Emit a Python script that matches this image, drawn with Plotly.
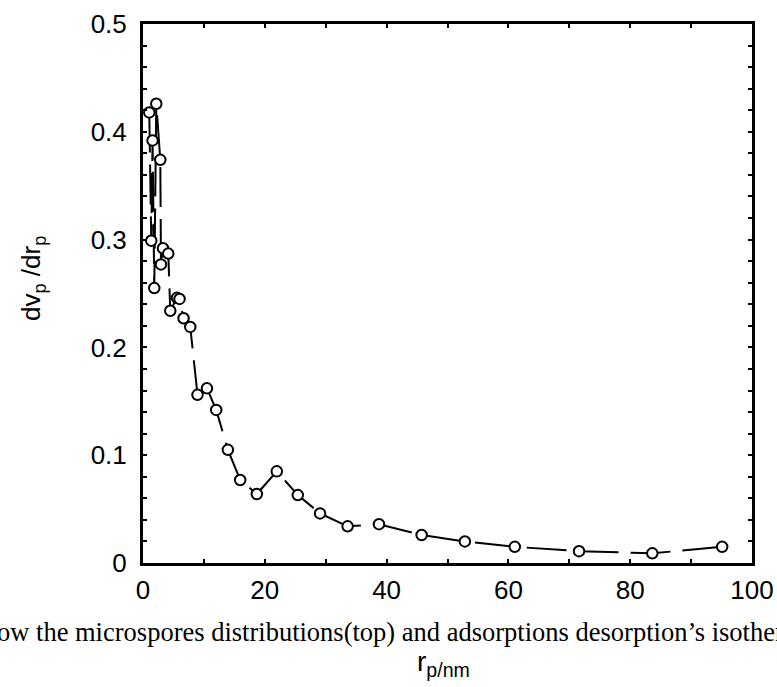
import plotly.graph_objects as go

r_p = [1.03, 1.36, 1.57, 1.85, 2.18, 2.84, 2.95, 3.28, 4.15, 4.48, 5.58, 6.0, 6.66, 7.76,
       8.95, 10.5, 12.02, 13.94, 15.96, 18.69, 21.97, 25.42, 29.07, 33.6, 38.75, 45.75,
       52.85, 61.05, 71.6, 83.63, 95.1]
dv_dr = [0.418, 0.299, 0.392, 0.255, 0.426, 0.374, 0.277, 0.292, 0.287, 0.234, 0.246, 0.245,
         0.227, 0.219, 0.156, 0.162, 0.142, 0.105, 0.077, 0.064, 0.085, 0.063, 0.046, 0.034,
         0.036, 0.026, 0.020, 0.015, 0.011, 0.009, 0.015]

x_ticks = [0, 20, 40, 60, 80, 100]
y_ticks = [0, 0.1, 0.2, 0.3, 0.4, 0.5]
y_ticklabels = ["0", "0.1", "0.2", "0.3", "0.4", "0.5"]

caption = "ow the microspores distributions(top) and adsorptions desorption\u2019s isother"
x_title = "r<sub>p/nm</sub>"
y_title = "dv<sub>p</sub> /dr<sub>p</sub>"

fig = go.Figure()
fig.add_trace(go.Scatter(
    x=r_p, y=dv_dr, mode="lines+markers",
    line=dict(color="black", width=2, dash="40px,12px"),
    marker=dict(symbol="circle", size=10.5, color="white", line=dict(color="black", width=2)),
    showlegend=False,
))

axis_font = dict(family="Liberation Sans, Arial, sans-serif", size=26, color="black")

fig.update_layout(
    width=777, height=687,
    margin=dict(l=143, r=25, t=24, b=123.5, autoexpand=False),
    paper_bgcolor="white", plot_bgcolor="white",
    xaxis=dict(
        range=[0, 100], tickvals=x_ticks, ticktext=[str(v) for v in x_ticks],
        showgrid=False, zeroline=False, automargin=False,
        showline=True, linecolor="black", linewidth=3, mirror="ticks",
        ticks="inside", ticklen=4, tickwidth=2, tickcolor="black",
        minor=dict(dtick=10, ticks="inside", ticklen=4, tickwidth=2, tickcolor="black"),
        tickfont=axis_font, ticklabelstandoff=2,
    ),
    yaxis=dict(
        range=[0, 0.5], tickvals=y_ticks, ticktext=y_ticklabels,
        showgrid=False, zeroline=False, automargin=False,
        showline=True, linecolor="black", linewidth=3, mirror="ticks",
        ticks="inside", ticklen=4, tickwidth=2, tickcolor="black",
        minor=dict(dtick=0.02, ticks="inside", ticklen=4, tickwidth=2, tickcolor="black"),
        tickfont=axis_font, ticklabelstandoff=8,
    ),
    annotations=[
        dict(text=caption, xref="paper", yref="paper", x=0.4063, y=0, xanchor="center",
             yanchor="middle", yshift=-69, showarrow=False,
             font=dict(family="Liberation Serif, Times New Roman, serif", size=26.5, color="black")),
        dict(text=x_title, xref="paper", yref="paper", x=0.493, y=0, xanchor="center",
             yanchor="bottom", yshift=-120, showarrow=False,
             font=dict(family="Liberation Sans, Arial, sans-serif", size=28, color="black")),
        dict(text=y_title, xref="paper", yref="paper", x=0, y=0.527, xanchor="center",
             yanchor="middle", xshift=-110, textangle=-90, showarrow=False,
             font=dict(family="Liberation Sans, Arial, sans-serif", size=26, color="black")),
    ],
)

fig.write_html("out.html", config={"displayModeBar": False},
               post_script="document.body.style.margin='0';document.body.style.overflow='hidden';")
